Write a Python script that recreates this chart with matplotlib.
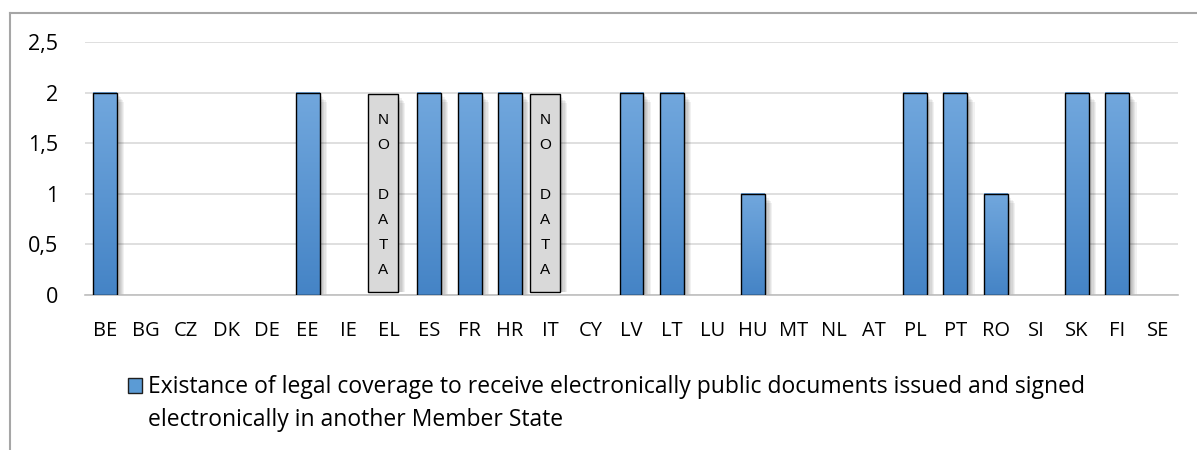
import numpy as np
import matplotlib
matplotlib.use('Agg')
import matplotlib.pyplot as plt
import matplotlib.patches as patches
import matplotlib.lines as lines

plt.rcParams['font.family'] = ['Open Sans', 'DejaVu Sans']

countries = ['BE', 'BG', 'CZ', 'DK', 'DE', 'EE', 'IE', 'EL', 'ES', 'FR', 'HR', 'IT', 'CY', 'LV',
             'LT', 'LU', 'HU', 'MT', 'NL', 'AT', 'PL', 'PT', 'RO', 'SI', 'SK', 'FI', 'SE']
values = [2, 0, 0, 0, 0, 2, 0, 0, 2, 2, 2, 0, 0, 2,
          2, 0, 1, 0, 0, 0, 2, 2, 1, 0, 2, 2, 0]
no_data = ['EL', 'IT']
yticks = [0, 0.5, 1, 1.5, 2, 2.5]
ytick_labels = ['0', '0,5', '1', '1,5', '2', '2,5']
legend_label = ('Existance of legal coverage to receive electronically public documents issued and signed\n'
                'electronically in another Member State')

W, H = 1197, 450
fig = plt.figure(figsize=(W / 100, H / 100), dpi=100)
ax = fig.add_axes([85 / W, 1 - 295 / H, 1093 / W, 253 / H])

x = np.arange(len(countries))
bar_w = 0.59

# soft shadow behind the bars
for i, v in zip(x, values):
    if v <= 0:
        continue
    for k in range(1, 7):
        ax.add_patch(patches.Rectangle((i - bar_w / 2 + 0.03 * k, 0), bar_w, v - 0.015 * k,
                                       facecolor='black', edgecolor='none', alpha=0.055, zorder=1))

edges = ['black' if v > 0 else 'none' for v in values]
bars = ax.bar(x, values, width=bar_w, color='#5B9BD5', edgecolor=edges, linewidth=1.0, zorder=3)

# vertical gradient inside each bar
grad = np.linspace(0, 1, 64).reshape(-1, 1)
cmap = matplotlib.colors.LinearSegmentedColormap.from_list('g', ['#4584C6', '#71A7DD'])
for b in bars:
    h = b.get_height()
    if h <= 0:
        continue
    x0 = b.get_x()
    ax.imshow(grad, extent=[x0, x0 + b.get_width(), 0, h], origin='lower', cmap=cmap,
              aspect='auto', zorder=2.5, interpolation='bicubic')
    b.set_facecolor('none')

# "NO DATA" boxes
for c in no_data:
    i = countries.index(c)
    cx = i - 0.14
    for k in range(1, 7):
        ax.add_patch(patches.Rectangle((cx - 0.37 + 0.03 * k, 0.03), 0.74, 1.96 - 0.015 * k,
                                       facecolor='black', edgecolor='none', alpha=0.055, zorder=1))
    ax.add_patch(patches.Rectangle((cx - 0.37, 0.03), 0.74, 1.96, facecolor='#D9D9D9',
                                   edgecolor='black', linewidth=1.0, zorder=3))
    ax.text(cx, 0.99, 'N\nO\n\nD\nA\nT\nA', ha='center', va='center', fontsize=11,
            family='Liberation Sans', linespacing=2.0, zorder=4)

ax.set_xlim(-0.5, len(countries) - 0.5)
ax.set_ylim(0, 2.5)
ax.set_yticks(yticks)
ax.set_yticklabels(ytick_labels, fontsize=15.5)
ax.set_xticks(x)
ax.set_xticklabels(countries, fontsize=14.5)
ax.tick_params(axis='y', length=0, pad=19.5)
ax.tick_params(axis='x', length=0, pad=19)
ax.grid(axis='y', color='#D9D9D9', linewidth=1.2, zorder=0)
ax.set_axisbelow(True)
for s in ['top', 'right', 'left']:
    ax.spines[s].set_visible(False)
ax.spines['bottom'].set_color('#BFBFBF')
ax.spines['bottom'].set_linewidth(1.2)
ax.spines['bottom'].set_zorder(2)

# legend (handle next to the first line of the label)
fig.add_artist(patches.Rectangle((128 / W, 1 - 393 / H), 14 / W, 15 / H,
                                 transform=fig.transFigure, facecolor='#5B9BD5',
                                 edgecolor='#1F1F1F', linewidth=1.0))
for n, line in enumerate(legend_label.split('\n')):
    fig.text(148 / W, 1 - (393 + 33 * n) / H, line, fontsize=16.5, ha='left', va='baseline')

# chart frame (left and top edges)
fig.add_artist(lines.Line2D([9.5 / W, 9.5 / W], [0, 1 - 12.5 / H], transform=fig.transFigure,
                            color='#A6A6A6', linewidth=1.5))
fig.add_artist(lines.Line2D([9.5 / W, 1], [1 - 12.5 / H, 1 - 12.5 / H], transform=fig.transFigure,
                            color='#A6A6A6', linewidth=1.5))

fig.savefig('out.png', dpi=100)
